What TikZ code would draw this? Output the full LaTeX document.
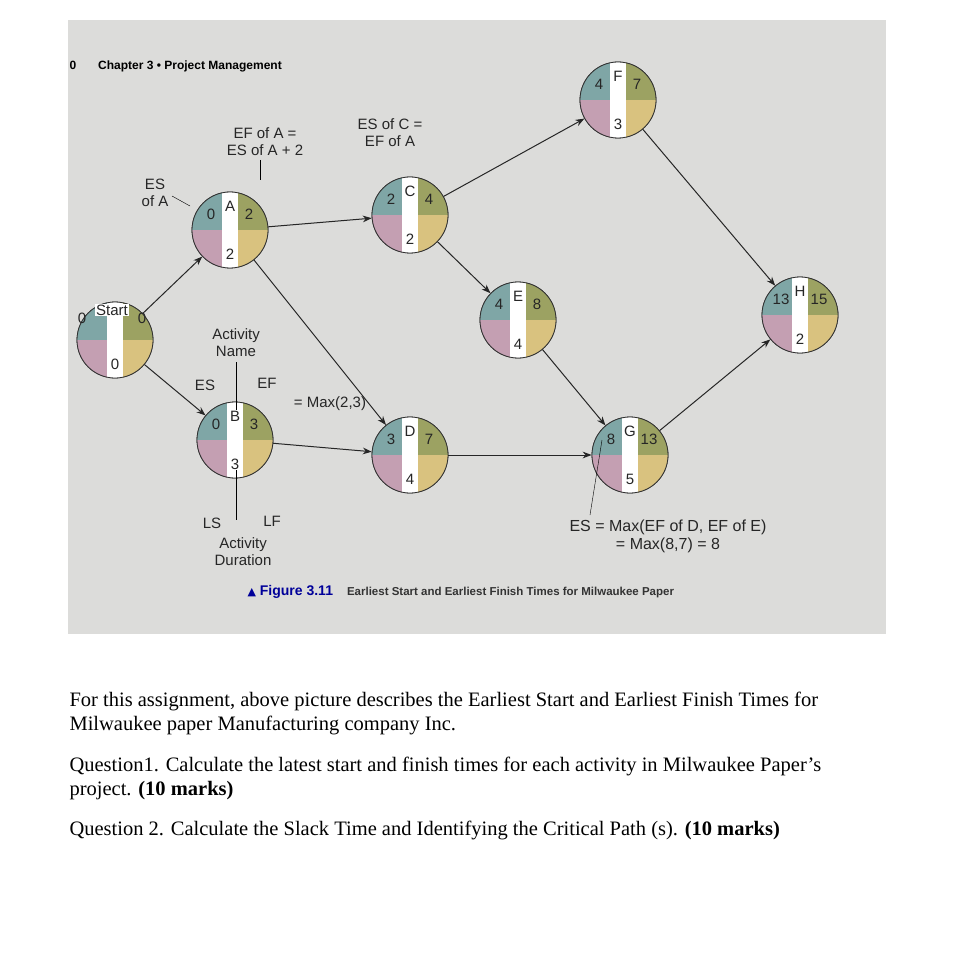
\documentclass[tikz,border=0pt]{standalone}
\usepackage{fontspec}
\setmainfont{Liberation Serif}
\setsansfont{Liberation Sans}
\newfontfamily\symf{DejaVu Sans}
\usetikzlibrary{arrows.meta}
\definecolor{qa}{HTML}{7FA6A6}
\definecolor{qb}{HTML}{9CA262}
\definecolor{qc}{HTML}{C49FB2}
\definecolor{qd}{HTML}{D9C27F}
\definecolor{photo}{HTML}{DCDCDA}
\tikzset{x=1pt,y=-1pt,
 actnode/.style={circle,minimum size=76pt,inner sep=0pt,draw=black!80,line width=0.8pt},
 lbl/.style={font=\sffamily\fontsize{15}{17}\selectfont,text=black!85},
 ann/.style={font=\sffamily\fontsize{15}{17}\selectfont,align=center,text=black!85},
 conn/.style={-{Stealth[length=9pt]},line width=1pt,black!85}}
\newcommand{\act}[7]{%
 \node[actnode] (#1) at (#2,#3) {};
 \begin{scope}
 \clip (#1.center) circle (38pt);
 \fill[qa] (#2-40,#3-40) rectangle (#2,#3);
 \fill[qb] (#2,#3-40) rectangle (#2+40,#3);
 \fill[qc] (#2-40,#3) rectangle (#2,#3+40);
 \fill[qd] (#2,#3) rectangle (#2+40,#3+40);
 \fill[white] (#2-8,#3-40) rectangle (#2+8,#3+40);
 \end{scope}
 \draw[black!80,line width=0.8pt] (#1.center) circle (38pt);
 \node[lbl] at (#2,#3-24) {#4};
 \node[lbl] at (#2-19,#3-16) {#5};
 \node[lbl] at (#2+19,#3-16) {#6};
 \node[lbl] at (#2,#3+24) {#7};
}
\begin{document}
\begin{tikzpicture}
\useasboundingbox (0,0) rectangle (955,957);
\fill[white] (0,0) rectangle (955,957);
\fill[photo] (68,20) rectangle (886,634);
\node[font=\sffamily\bfseries\fontsize{12}{14}\selectfont,anchor=west] (hdr) at (66,66) {0\hspace{22pt}Chapter 3 \textbullet\ Project Management};
\act{S}{115}{340}{}{}{}{0}
\node[lbl,fill=white,inner sep=1pt] at (112,310) {Start};
\node[lbl] at (82,318) {0};
\node[lbl] at (142,318) {0};
\act{A}{230}{230}{A}{0}{2}{2}
\act{B}{235}{440}{B}{0}{3}{3}
\act{C}{410}{215}{C}{2}{4}{2}
\act{D}{410}{455}{D}{3}{7}{4}
\act{E}{518}{320}{E}{4}{8}{4}
\act{F}{618}{100}{F}{4}{7}{3}
\act{G}{630}{455}{G}{8}{13}{5}
\act{H}{800}{315}{H}{13}{15}{2}
\draw[conn] (S) -- (A);
\draw[conn] (S) -- (B);
\draw[conn] (A) -- (C);
\draw[conn] (A) -- (D);
\draw[conn] (B) -- (D);
\draw[conn] (C) -- (F);
\draw[conn] (C) -- (E);
\draw[conn] (D) -- (G);
\draw[conn] (E) -- (G);
\draw[conn] (F) -- (H);
\draw[conn] (G) -- (H);
\node[ann] (efa) at (265,142) {EF of A =\\ES of A + 2};
\draw (260,160) -- (260,180);
\node[ann] (esc) at (390,133) {ES of C =\\EF of A};
\node[ann] (esa) at (155,193) {ES\\of A};
\draw (172,196) -- (190,206);
\node[ann] (an) at (236,343) {Activity\\Name};
\node[ann] (es) at (205,385) {ES};
\node[ann] (ef) at (267,383) {EF};
\draw (236,362) -- (236,410);
\node[ann] (mx) at (330,404) {= Max(2,3)};
\node[ann] (ls) at (212,523) {LS};
\node[ann] (lf) at (272,521) {LF};
\draw (236,470) -- (236,520);
\node[ann] (ad) at (243,552) {Activity\\Duration};
\node[ann,font=\sffamily\fontsize{16}{18}\selectfont] (esg) at (668,536) {ES = Max(EF of D, EF of E)\\= Max(8,7) = 8};
\draw (602,440) -- (590,515);
\node[font=\sffamily\bfseries\fontsize{14}{16}\selectfont,anchor=west,text=black!80] (cap) at (244,592) {\textcolor{blue!60!black}{{\symf\fontsize{11}{12}\selectfont ▲} Figure 3.11}\quad{\fontsize{11.5}{13}\selectfont Earliest Start and Earliest Finish Times for Milwaukee Paper}};
\begin{scope}[font=\fontsize{20.5}{24}\selectfont]
\node[anchor=west,align=left] (t1) at (66,713) {For this assignment, above picture describes the Earliest Start and Earliest Finish Times for\\Milwaukee paper Manufacturing company Inc.};
\node[anchor=west,align=left] (t2) at (66,778) {Question1. Calculate the latest start and finish times for each activity in Milwaukee Paper’s\\project. \textbf{(10 marks)}};
\node[anchor=west] (t3) at (66,830) {Question 2. Calculate the Slack Time and Identifying the Critical Path (s). \textbf{(10 marks)}};
\end{scope}
\end{tikzpicture}
\end{document}
